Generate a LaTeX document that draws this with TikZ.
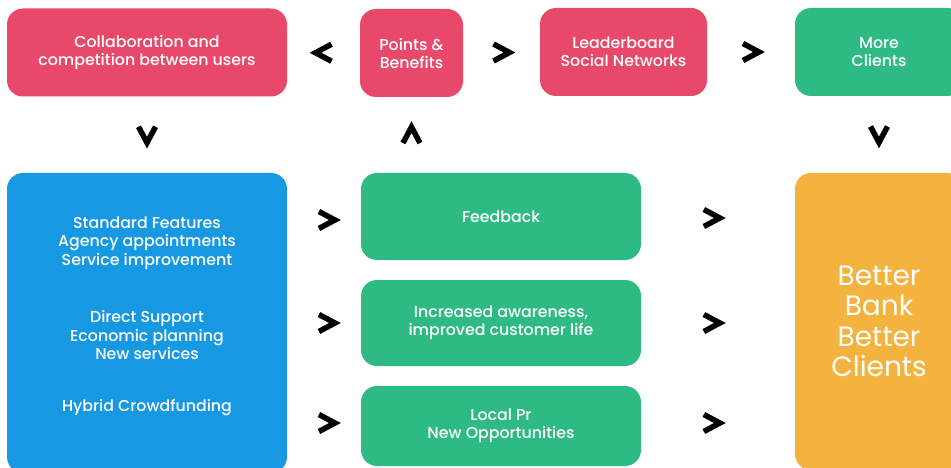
\documentclass[tikz,border=0pt]{standalone}
\usepackage{fontspec}
\setmainfont{Poppins}[UprightFont=* Medium]
\newfontfamily\plainface{Poppins}
\usetikzlibrary{calc}
\definecolor{rose}{RGB}{232,72,106}
\definecolor{mint}{RGB}{46,187,131}
\definecolor{sky}{RGB}{22,152,226}
\definecolor{amber}{RGB}{244,178,62}
\tikzset{
  card/.style={rectangle, rounded corners=16pt, inner sep=0pt, text=white,
    align=center, font=\fontsize{15.8}{18}\selectfont},
  blurb/.style={inner sep=0pt, text=white, align=center,
    font=\fontsize{15.8}{18.5}\selectfont},
  chevR/.pic={\draw[line width=5.5pt] (-8,-8.5) -- (8,0) -- (-8,8.5);},
  chevL/.pic={\draw[line width=5.5pt] (8,-8.5) -- (-8,0) -- (8,8.5);},
  chevD/.pic={\draw[line width=5.5pt] (-8.5,-8) -- (0,8) -- (8.5,-8);},
  chevU/.pic={\draw[line width=5.5pt] (-8.5,8) -- (0,-8) -- (8.5,8);},
}
\begin{document}
\begin{tikzpicture}[x=1pt, y=-1pt]
  \useasboundingbox (0,0) rectangle (951,468);
  \clip (0,0) rectangle (951,468);
  \fill[white] (0,0) rectangle (951,468);

  % top row
  \node[card, fill=rose, minimum width=280, minimum height=88] (collab) at (147,52.5)
    {Collaboration and\\competition between users};
  \node[card, fill=rose, minimum width=103, minimum height=88] (points) at (411.5,53)
    {Points \&\\Benefits};
  \node[card, fill=rose, minimum width=167, minimum height=88] (leader) at (623.5,52)
    {Leaderboard\\Social Networks};
  \node[card, fill=mint, minimum width=168, minimum height=88] (more) at (879,52)
    {More\\Clients};

  % lower row
  \node[card, fill=sky, minimum width=280, minimum height=300] (features) at (147,323) {};
  \node[blurb] (std) at (147,243) {Standard Features\\Agency appointments\\Service improvement};
  \node[blurb] (direct) at (147,335) {Direct Support\\Economic planning\\New services};
  \node[blurb] (hybrid) at (147,408) {Hybrid Crowdfunding};

  \node[card, fill=mint, minimum width=280, minimum height=87] (feedback) at (501,216.5)
    {Feedback};
  \node[card, fill=mint, minimum width=280, minimum height=86] (aware) at (501,323)
    {Increased awareness,\\improved customer life};
  \node[card, fill=mint, minimum width=280, minimum height=80] (local) at (501,426)
    {Local Pr\\New Opportunities};

  \node[card, fill=amber, minimum width=168, minimum height=297,
    font=\plainface\fontsize{28}{30.5}\selectfont] (better) at (879,321.5)
    {Better\\Bank\\Better\\Clients};

  % chevrons between the cards
  \pic at ($(collab.east)!0.5!(points.west)$) {chevL};
  \pic at ($(points.east)!0.5!(leader.west)$) {chevR};
  \pic at ($(leader.east)!0.5!(more.west)$) {chevR};
  \pic at ($(collab.south)!0.5!(features.north)$) {chevD};
  \pic at ($(points.south)!0.5!(features.north -| points.south)$) {chevU};
  \pic at ($(more.south)!0.5!(better.north)$) {chevD};

  \pic[yshift=-3.5pt] at ($(features.east |- feedback.east)!0.54!(feedback.west)$) {chevR};
  \pic at ($(features.east |- aware.east)!0.54!(aware.west)$) {chevR};
  \pic[yshift=3pt] at ($(features.east |- local.east)!0.54!(local.west)$) {chevR};
  \pic[yshift=-1.5pt] at ($(feedback.east)!0.46!(better.west |- feedback.east)$) {chevR};
  \pic at ($(aware.east)!0.46!(better.west |- aware.east)$) {chevR};
  \pic[yshift=3pt] at ($(local.east)!0.46!(better.west |- local.east)$) {chevR};
\end{tikzpicture}
\end{document}
